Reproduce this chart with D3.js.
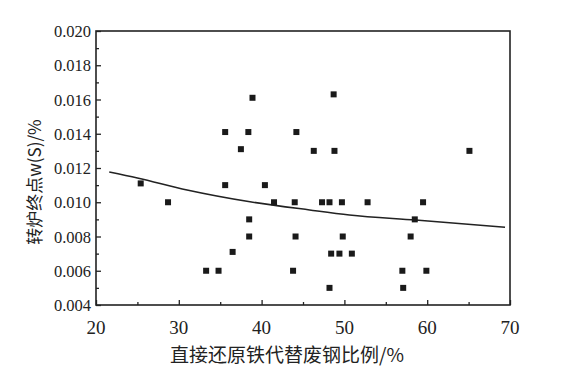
<!DOCTYPE html>
<html><head><meta charset="utf-8">
<script src="https://cdn.jsdelivr.net/npm/d3@7"></script>
<style>body{margin:0;background:#fff}svg{display:block}</style>
</head><body>
<svg id="c" width="562" height="383"></svg>
<script>
const xTicks = [20, 30, 40, 50, 60, 70];
const yTicks = [0.004, 0.006, 0.008, 0.010, 0.012, 0.014, 0.016, 0.018, 0.020];
const yTickLabels = ["0.004","0.006","0.008","0.010","0.012","0.014","0.016","0.018","0.020"];
const xTitle = "直接还原铁代替废钢比例/%";
const yTitle = "转炉终点w(S)/%";
const ptX = [38.9,35.6,38.4,44.2,37.5,48.7,46.3,48.8,65.1,25.4,28.7,35.6,40.4,41.5,44.0,38.5,38.5,44.1,36.5,33.3,34.8,43.8,47.3,48.2,49.7,52.8,59.5,58.5,49.8,58.0,48.4,49.4,50.9,57.0,59.9,48.2,57.1];
const ptY = [0.0161,0.0141,0.0141,0.0141,0.0131,0.0163,0.0130,0.0130,0.0130,0.0111,0.0100,0.0110,0.0110,0.0100,0.0100,0.0090,0.0080,0.0080,0.0071,0.0060,0.0060,0.0060,0.0100,0.0100,0.0100,0.0100,0.0100,0.0090,0.0080,0.0080,0.0070,0.0070,0.0070,0.0060,0.0060,0.0050,0.0050];
const fitX = [21.6, 25, 31, 38.6, 45.8, 50.6, 58.6, 69.4];
const fitY = [0.01177, 0.01142, 0.01072, 0.01003, 0.00955, 0.00926, 0.00896, 0.00854];

const svg = d3.select("#c");
const L = 96, R = 510, T = 31, B = 305;
const x = d3.scaleLinear().domain([20, 70]).range([L, R]);
const y = d3.scaleLinear().domain([0.004, 0.020]).range([B, T]);
const ink = "#222";
const serif = "'Liberation Serif', 'DejaVu Serif', serif";

svg.append("rect").attr("x", L).attr("y", T).attr("width", R - L).attr("height", B - T)
  .attr("fill", "none").attr("stroke", ink).attr("stroke-width", 1.6);

svg.append("g").attr("transform", `translate(0,${B})`)
  .call(d3.axisBottom(x).tickValues([25,35,45,55,65]).tickSize(-3).tickFormat(""));
svg.append("g").attr("transform", `translate(${L},0)`)
  .call(d3.axisLeft(y).tickValues([0.005,0.007,0.009,0.011,0.013,0.015,0.017,0.019]).tickSize(-3).tickFormat(""));
const xa = svg.append("g").attr("transform", `translate(0,${B})`)
  .call(d3.axisBottom(x).tickValues(xTicks).tickSize(-5).tickFormat(""));
const ya = svg.append("g").attr("transform", `translate(${L},0)`)
  .call(d3.axisLeft(y).tickValues(yTicks).tickSize(-5).tickFormat(""));
svg.selectAll(".domain").remove();
svg.selectAll(".tick line").attr("stroke", ink).attr("stroke-width", 1.3);

// tick labels as plain text elements
svg.append("g").selectAll("text").data(xTicks).join("text")
  .attr("x", d => x(d)).attr("y", B + 29).attr("text-anchor", "middle")
  .style("font-family", serif).style("font-size", "19px").attr("fill", ink).text(d => d);
svg.append("g").selectAll("text").data(yTicks).join("text")
  .attr("x", L - 5).attr("y", d => y(d) + 6).attr("text-anchor", "end")
  .style("font-family", serif).style("font-size", "16.5px").attr("fill", ink).text((d, i) => yTickLabels[i]);

const fit = fitX.map((v, i) => [v, fitY[i]]);
svg.append("path").datum(fit)
  .attr("d", d3.line().x(d => x(d[0])).y(d => y(d[1])).curve(d3.curveMonotoneX))
  .attr("fill", "none").attr("stroke", ink).attr("stroke-width", 1.5);

const pts = ptX.map((v, i) => [v, ptY[i]]);
svg.append("g").selectAll("rect").data(pts).join("rect")
  .attr("x", d => x(d[0]) - 3).attr("y", d => y(d[1]) - 3)
  .attr("width", 6).attr("height", 6).attr("fill", "#1a1a1a");

svg.append("text").attr("x", 287).attr("y", 362).attr("text-anchor", "middle")
  .style("font-family", "'Noto Sans CJK SC'").style("font-size", "19px").attr("fill", ink).text(xTitle);
svg.append("text").attr("transform", "translate(41,182) rotate(-90)").attr("text-anchor", "middle")
  .style("font-family", "'Noto Sans CJK SC'").style("font-size", "17px").attr("fill", ink).text(yTitle);
</script>
</body></html>
